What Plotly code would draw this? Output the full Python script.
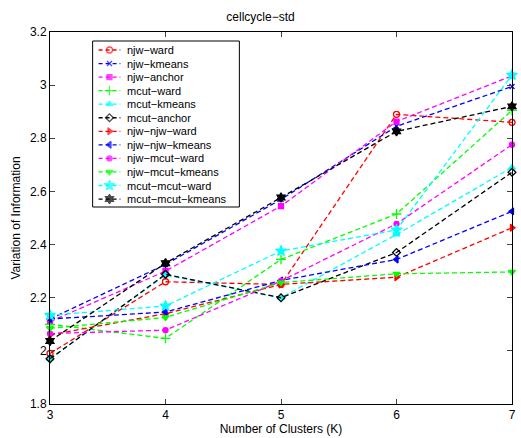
import plotly.graph_objects as go

K = [3, 4, 5, 6, 7]

names = ["njw−ward", "njw−kmeans", "njw−anchor", "mcut−ward", "mcut−kmeans", "mcut−anchor",
         "njw−njw−ward", "njw−njw−kmeans", "njw−mcut−ward", "njw−mcut−kmeans",
         "mcut−mcut−ward", "mcut−mcut−kmeans"]

njw_ward = [1.99, 2.26, 2.25, 2.89, 2.86]
njw_kmeans = [2.12, 2.325, 2.57, 2.845, 2.995]
njw_anchor = [2.11, 2.30, 2.545, 2.863, 3.035]
mcut_ward = [2.10, 2.047, 2.344, 2.515, 2.905]
mcut_kmeans = [1.97, 2.285, 2.20, 2.438, 2.69]
mcut_anchor = [1.97, 2.288, 2.20, 2.37, 2.672]
njw_njw_ward = [2.06, 2.14, 2.25, 2.277, 2.463]
njw_njw_kmeans = [2.12, 2.146, 2.265, 2.344, 2.525]
njw_mcut_ward = [2.065, 2.078, 2.263, 2.478, 2.776]
njw_mcut_kmeans = [2.085, 2.126, 2.257, 2.29, 2.297]
mcut_mcut_ward = [2.134, 2.169, 2.376, 2.455, 3.038]
mcut_mcut_kmeans = [2.037, 2.33, 2.577, 2.826, 2.92]

series = [njw_ward, njw_kmeans, njw_anchor, mcut_ward, mcut_kmeans, mcut_anchor,
          njw_njw_ward, njw_njw_kmeans, njw_mcut_ward, njw_mcut_kmeans,
          mcut_mcut_ward, mcut_mcut_kmeans]

colors = ["#ff0000", "#0000ff", "#ff00ff", "#00ff00", "#00ffff", "#000000",
          "#ff0000", "#0000ff", "#ff00ff", "#00ff00", "#00ffff", "#000000"]
symbols = ["circle-open", "x-thin-open", "square", "cross-thin-open", "triangle-up", "diamond-open",
           "triangle-right", "triangle-left", "circle", "triangle-down", "star", "hexagram"]
sizes = [6, 5, 5, 7, 6, 6, 6, 6, 5, 6, 8, 7]

y_ticks = [1.8, 2.0, 2.2, 2.4, 2.6, 2.8, 3.0, 3.2]
y_ticktext = ["1.8", "2", "2.2", "2.4", "2.6", "2.8", "3", "3.2"]

DASH = "5px,3px"
fig = go.Figure()
for n, s, c, sym, sz in zip(names, series, colors, symbols, sizes):
    fig.add_trace(go.Scatter(
        x=K, y=s, name=n, mode="lines+markers", cliponaxis=False, showlegend=False,
        line=dict(color=c, width=1.3, dash=DASH),
        marker=dict(symbol=sym, color=c, size=sz, line=dict(color=c, width=1.3)),
    ))

# Legend drawn on an overlay axis measured in pixels of the plot area
PL, PR, PT, PB = 50, 516, 32, 404
box = dict(x0=93, x1=241, y0=41, y1=207)
row0, rowgap = 50, 13.55
for i, (n, c, sym, sz) in enumerate(zip(names, colors, symbols, sizes)):
    ry = row0 + i * rowgap
    fig.add_trace(go.Scatter(
        x=[99, 110, 121], y=[ry, ry, ry], xaxis="x2", yaxis="y2", mode="lines+markers",
        showlegend=False, hoverinfo="skip", cliponaxis=False,
        line=dict(color=c, width=1.3, dash="4px,3px"),
        marker=dict(symbol=sym, color=c, size=[0, sz, 0], line=dict(color=c, width=1.3)),
    ))
    fig.add_annotation(x=126, y=ry, xref="x2", yref="y2", text=n, showarrow=False,
                       xanchor="left", yanchor="middle", font=dict(size=11))

fig.add_shape(type="rect", xref="x2", yref="y2", layer="below",
              fillcolor="white", line=dict(color="black", width=1), **box)

font = "Liberation Sans, Arial, sans-serif"
fig.update_layout(
    width=521, height=438,
    margin=dict(l=PL, r=521 - PR, t=PT, b=438 - PB),
    paper_bgcolor="white", plot_bgcolor="white",
    font=dict(family=font, size=12, color="black"),
    title=dict(text="cellcycle−std", x=0.5, xanchor="center", y=0.972, yanchor="top",
               font=dict(size=12, family=font)),
    showlegend=False,
    xaxis=dict(range=[3, 7], tickvals=K, ticks="inside", ticklen=5, showline=True,
               linecolor="black", linewidth=1, mirror="ticks", showgrid=False, zeroline=False,
               title=dict(text="Number of Clusters (K)", standoff=2, font=dict(size=12)),
               tickfont=dict(size=12)),
    yaxis=dict(range=[1.8, 3.2], tickvals=y_ticks, ticktext=y_ticktext, ticks="inside", ticklen=5,
               showline=True, linecolor="black", linewidth=1, mirror="ticks", showgrid=False,
               zeroline=False,
               title=dict(text="Variation of Information", standoff=6, font=dict(size=12)),
               tickfont=dict(size=12)),
    xaxis2=dict(overlaying="x", range=[PL, PR], visible=False, fixedrange=True),
    yaxis2=dict(overlaying="y", range=[PB, PT], visible=False, fixedrange=True),
)

fig.write_html("out.html", config={"displayModeBar": False},
               post_script="document.body.style.margin='0px';")
